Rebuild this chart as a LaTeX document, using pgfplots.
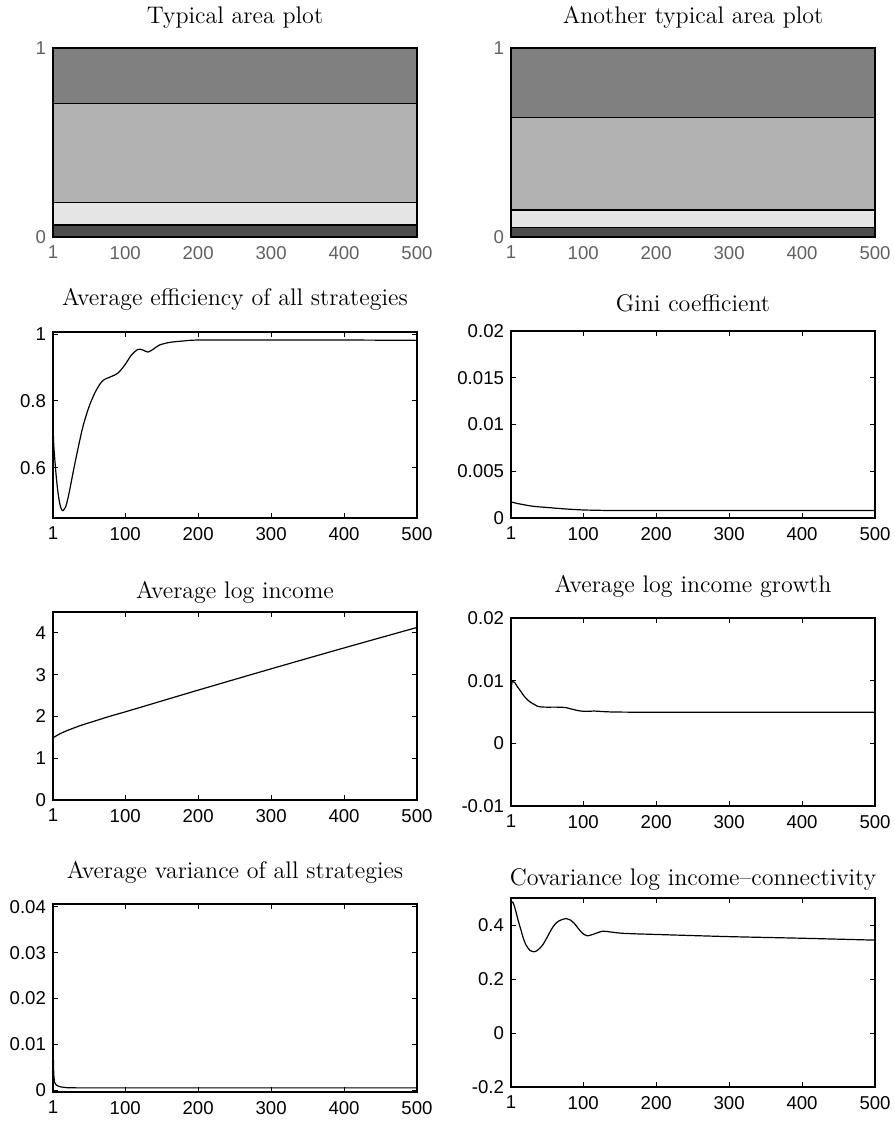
\documentclass[border=0pt]{standalone}
\usepackage{pgfplots}
\pgfplotsset{compat=1.18}
\usepackage{fontspec}
\newfontfamily\tickfont{Liberation Sans}
\pgfplotsset{
  every axis title shift=0pt,
  base/.style={
    scale only axis, width=182pt, anchor=south west,
    xmin=1, xmax=500,
    scaled y ticks=false, scaled x ticks=false,
    xtick={1,100,200,300,400,500},
    xticklabels={1,100,200,300,400,500},
    tick label style={font=\tickfont\fontsize{9.3}{11}\selectfont},
    xticklabel style={yshift=-1pt},
    major tick length=2.5pt, tick align=inside,
    axis line style={line width=0.7pt},
    every tick/.style={black, line width=0.5pt},
    title style={font=\fontsize{12}{14}\selectfont, at={(0.5,1)}, anchor=base},
  },
  areaax/.style={base, ymin=0, ymax=1, ytick={0,1}, yticklabels={0,1},
    tick label style={color=black!62}, major tick length=0pt, axis on top},
  curve/.style={black, line width=0.6pt, no markers},
}
\definecolor{a1}{gray}{0.30}
\definecolor{a2}{gray}{0.90}
\definecolor{a3}{gray}{0.70}
\definecolor{a4}{gray}{0.50}
\begin{document}
\begin{tikzpicture}
\path[use as bounding box] (0,0) rectangle (447pt,-561pt);

% ---------- Row 1 left
\begin{axis}[areaax, at={(26.5pt,-118.5pt)}, height=94.5pt,
  title={Typical area plot}, title style={yshift=12.3pt}]
\addplot[fill=a4, draw=black, line width=0.6pt] coordinates {(1,1) (500,1)} \closedcycle;
\addplot[fill=a3, draw=black, line width=0.6pt] coordinates {(1,0.705) (500,0.705)} \closedcycle;
\addplot[fill=a2, draw=black, line width=0.6pt] coordinates {(1,0.183) (500,0.183)} \closedcycle;
\addplot[fill=a1, draw=black, line width=0.6pt] coordinates {(1,0.063) (500,0.063)} \closedcycle;
\end{axis}

% ---------- Row 1 right
\begin{axis}[areaax, at={(255.5pt,-118.5pt)}, height=94.5pt,
  title={Another typical area plot}, title style={yshift=12.3pt}]
\addplot[fill=a4, draw=black, line width=0.6pt] coordinates {(1,1) (500,1)} \closedcycle;
\addplot[fill=a3, draw=black, line width=0.6pt] coordinates {(1,0.633) (500,0.633)} \closedcycle;
\addplot[fill=a2, draw=black, line width=0.6pt] coordinates {(1,0.143) (500,0.143)} \closedcycle;
\addplot[fill=a1, draw=black, line width=0.6pt] coordinates {(1,0.049) (500,0.049)} \closedcycle;
\end{axis}

% ---------- Row 2 left
\begin{axis}[base, at={(26.5pt,-259pt)}, height=93pt,
  ymin=0.45, ymax=1.006, ytick={0.6,0.8,1}, yticklabels={0.6,0.8,1},
  title={Average efficiency of all strategies}, title style={yshift=13pt}]
\addplot[curve, smooth] coordinates {
(1,0.73) (2,0.67) (3.3,0.63) (5.6,0.57) (7.9,0.525) (10.1,0.495) (12.4,0.477)
(14.7,0.472) (18.4,0.484) (21.6,0.51) (23.9,0.534) (28,0.58) (33,0.634)
(42,0.723) (51.3,0.788) (60.5,0.833) (69.5,0.861) (81,0.873) (90,0.883)
(99.3,0.907) (108.5,0.937) (117.5,0.954) (124.4,0.952) (131,0.946) (138,0.954)
(147,0.967) (161,0.975) (179,0.979) (202,0.982) (300,0.982) (400,0.982) (500,0.981)};
\end{axis}

% ---------- Row 2 right
\begin{axis}[base, at={(255.5pt,-259pt)}, height=93.5pt,
  ymin=0, ymax=0.02, ytick={0,0.005,0.01,0.015,0.02},
  yticklabels={0,0.005,0.01,0.015,0.02},
  title={Gini coefficient}, title style={yshift=10pt}]
\addplot[curve, smooth] coordinates {
(1,0.00172) (10,0.00155) (20,0.0014) (31.6,0.00125) (54.5,0.0011) (77,0.00096)
(100,0.00086) (123,0.00082) (150,0.0008) (300,0.0008) (500,0.0008)};
\end{axis}

% ---------- Row 3 left
\begin{axis}[base, at={(26.5pt,-400pt)}, height=94pt,
  ymin=0, ymax=4.5, ytick={0,1,2,3,4}, yticklabels={0,1,2,3,4},
  title={Average log income}, title style={yshift=7pt}]
\addplot[curve, smooth] coordinates {
(1,1.49) (10,1.58) (20,1.66) (40,1.79) (60,1.90) (80,2.01) (100,2.11)
(150,2.37) (200,2.63) (300,3.14) (400,3.64) (500,4.13)};
\end{axis}

% ---------- Row 3 right
\begin{axis}[base, at={(255.5pt,-403pt)}, height=94pt,
  ymin=-0.01, ymax=0.02, ytick={-0.01,0,0.01,0.02},
  yticklabels={-0.01,0,0.01,0.02},
  title={Average log income growth}, title style={yshift=13pt}]
\addplot[curve, smooth] coordinates {
(1,0.0075) (2,0.0095) (3.3,0.0099) (6,0.0097) (10,0.009) (15,0.0082)
(19.2,0.0075) (24,0.0069) (28.3,0.0065) (33,0.0062) (37.5,0.0059) (44,0.0058)
(51,0.00577) (60,0.00578) (69.4,0.00576) (76,0.0057) (83,0.0055) (90,0.0053)
(96.8,0.00515) (105,0.0051) (115,0.00515) (130,0.00505) (142.5,0.005)
(174.5,0.00497) (250,0.00497) (500,0.00497)};
\end{axis}

% ---------- Row 4 left
\begin{axis}[base, at={(26.5pt,-546pt)}, height=94pt,
  ymin=-0.0004, ymax=0.0406, ytick={0,0.01,0.02,0.03,0.04},
  yticklabels={0,0.01,0.02,0.03,0.04},
  title={Average variance of all strategies}, title style={yshift=13pt}]
\addplot[curve] coordinates {
(1,0.0102) (2,0.0035) (3,0.0018) (5,0.0012) (8,0.0009) (12,0.0007)
(20,0.00055) (35,0.0005) (100,0.0005) (500,0.0005)};
\end{axis}

% ---------- Row 4 right
\begin{axis}[base, at={(255.5pt,-543.5pt)}, height=94.5pt,
  ymin=-0.2, ymax=0.5, ytick={-0.2,0,0.2,0.4},
  yticklabels={-0.2,0,0.2,0.4},
  title={Covariance log income--connectivity}, title style={yshift=6.5pt}]
\addplot[curve, smooth] coordinates {
(1,0.48) (3.3,0.485) (5,0.475) (7.8,0.449) (11,0.415) (14.7,0.381) (18,0.35)
(21.6,0.326) (27,0.306) (33,0.301) (38,0.308) (44.4,0.326) (50,0.352)
(55.8,0.381) (61,0.402) (67.2,0.416) (76.4,0.424) (82,0.419) (87.8,0.406)
(93,0.388) (99.2,0.369) (106,0.36) (115,0.367) (126.6,0.377) (138,0.374)
(156,0.369) (200,0.365) (300,0.357) (400,0.351) (500,0.344)};
\end{axis}
\end{tikzpicture}
\end{document}
